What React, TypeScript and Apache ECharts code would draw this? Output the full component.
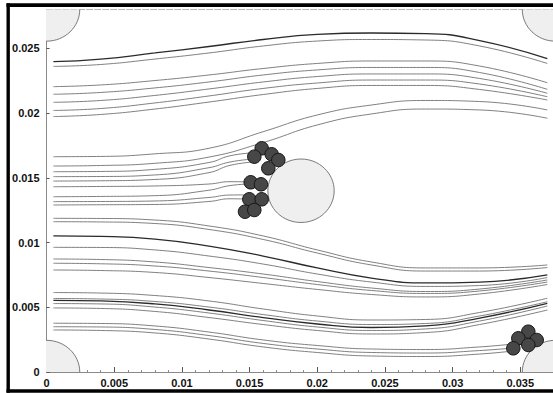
import React, { useEffect, useRef } from "react";
import * as echarts from "echarts";

// ---------- data (axis units: metres) ----------
const X_MAX = 0.0376;
const Y_MAX = 0.028;

// sample abscissae shared by the streamlines that cross the whole cell
const X_FULL = [0.0005, 0.004, 0.008, 0.012, 0.016, 0.02, 0.024, 0.028, 0.032, 0.037];
// abscissae of the lowest streamlines (they end at the bottom-right particle cluster)
const X_BOTTOM = [0.0005, 0.004, 0.008, 0.012, 0.016, 0.02, 0.024, 0.028, 0.032, 0.0345];

// upper streamlines (go over the cylinder)
const A1 = [0.02397, 0.02417, 0.02464, 0.02514, 0.02568, 0.02607, 0.02618, 0.02614, 0.0256, 0.02421];
const A2 = [0.0236, 0.02375, 0.02417, 0.02464, 0.02518, 0.02556, 0.02568, 0.02564, 0.02518, 0.02383];
const A3 = [0.02204, 0.02217, 0.02251, 0.02294, 0.02344, 0.02383, 0.02402, 0.02402, 0.02363, 0.02234];
const A4 = [0.02145, 0.02159, 0.02194, 0.0224, 0.02294, 0.02333, 0.02352, 0.02352, 0.02313, 0.02183];
const A5 = [0.02083, 0.02097, 0.02136, 0.02186, 0.0224, 0.02282, 0.02302, 0.02302, 0.02267, 0.02153];
const A6 = [0.0202, 0.02035, 0.02078, 0.02132, 0.0219, 0.02232, 0.02255, 0.02255, 0.02224, 0.02126];
const A7 = [0.01973, 0.01989, 0.02031, 0.02085, 0.02143, 0.0219, 0.02213, 0.02213, 0.02182, 0.02101];
const B1 = [0.01663, 0.01665, 0.01685, 0.01728, 0.01856, 0.01985, 0.02062, 0.02097, 0.02089, 0.02024];
const B2 = [0.01591, 0.01595, 0.01612, 0.01660, 0.01772, 0.01908, 0.01993, 0.02031, 0.02024, 0.0196];

// lower streamlines (go under the cylinder)
const M1 = [0.01187, 0.01186, 0.01174, 0.01128, 0.01051, 0.00943, 0.0085, 0.00804, 0.00804, 0.00827];
const M2 = [0.01161, 0.01159, 0.01147, 0.01101, 0.01024, 0.00919, 0.00827, 0.0078, 0.0078, 0.00807];
const M3 = [0.01051, 0.01047, 0.01027, 0.00973, 0.00896, 0.00804, 0.00726, 0.00688, 0.00695, 0.0075];
const M4 = [0.00963, 0.00962, 0.00943, 0.00896, 0.00834, 0.00757, 0.00695, 0.00661, 0.00668, 0.0073];
const M5 = [0.00873, 0.00869, 0.0085, 0.00807, 0.00757, 0.00699, 0.00649, 0.00622, 0.00641, 0.00711];
const M6 = [0.0084, 0.00836, 0.00819, 0.0078, 0.0073, 0.00676, 0.0063, 0.00607, 0.00626, 0.00695];
const M7 = [0.00788, 0.00784, 0.00769, 0.0073, 0.00684, 0.00638, 0.00599, 0.0058, 0.00603, 0.00676];
const N1 = [0.00614, 0.0061, 0.00591, 0.00549, 0.00487, 0.00433, 0.00402, 0.00406, 0.0046, 0.0057];
const N2 = [0.00568, 0.00564, 0.00545, 0.00502, 0.00444, 0.00394, 0.00367, 0.00375, 0.00433, 0.00543];
const N3 = [0.00553, 0.00549, 0.00526, 0.00479, 0.00421, 0.00371, 0.00344, 0.00356, 0.00417, 0.00531];
const N4 = [0.00529, 0.00526, 0.00502, 0.00456, 0.00398, 0.00348, 0.00321, 0.00333, 0.00394, 0.0051];
const N5 = [0.00495, 0.00491, 0.00468, 0.00421, 0.00367, 0.00321, 0.00294, 0.00305, 0.00367, 0.00479];

// lowest streamlines (captured by the bottom-right cluster)
const P1 = [0.00377, 0.00375, 0.00356, 0.00309, 0.00248, 0.00205, 0.00178, 0.00174, 0.00194, 0.00217];
const P2 = [0.0035, 0.00348, 0.00329, 0.00282, 0.00221, 0.00178, 0.00151, 0.00147, 0.00166, 0.00186];
const P3 = [0.00325, 0.00321, 0.00302, 0.00255, 0.00194, 0.00151, 0.00124, 0.0012, 0.00139, 0.00163];

// streamlines captured by the particles in front of the cylinder: [x, y]
const C1 = [[0.0005, 0.01547], [0.004, 0.01549], [0.008, 0.01565], [0.012, 0.01618], [0.01355, 0.01670], [0.0152, 0.01692]];
const C2 = [[0.0005, 0.01509], [0.004, 0.0151], [0.008, 0.01522], [0.012, 0.01578], [0.01355, 0.01622], [0.0153, 0.01645]];
const C3 = [[0.0005, 0.01475], [0.004, 0.01477], [0.008, 0.01487], [0.012, 0.01540], [0.01355, 0.01596], [0.0153, 0.01622]];
const C4 = [[0.0005, 0.01431], [0.004, 0.01433], [0.008, 0.01437], [0.012, 0.01452], [0.01355, 0.0147], [0.0151, 0.01468]];
const C5 = [[0.0005, 0.01354], [0.004, 0.01356], [0.008, 0.01362], [0.012, 0.01404], [0.01355, 0.01440], [0.0151, 0.01452]];
const C6 = [[0.0005, 0.01316], [0.004, 0.01317], [0.008, 0.01321], [0.012, 0.01348], [0.01355, 0.01367], [0.015, 0.01368]];
const C7 = [[0.0005, 0.0129], [0.004, 0.01292], [0.008, 0.01294], [0.012, 0.01317], [0.01355, 0.01338], [0.015, 0.01335]];

// cylinders (centres) and radius
const CYLINDERS = [[0, 0], [0, 0.028], [0.0376, 0], [0.0376, 0.028], [0.0188, 0.014]];
const CYL_R = 0.00245;

// deposited particles
const PARTICLES = [
  [0.015895, 0.017278], [0.015348, 0.01663], [0.016634, 0.016815], [0.017121, 0.016375],
  [0.016382, 0.015734], [0.015082, 0.014653], [0.015843, 0.014498], [0.014978, 0.01334],
  [0.015895, 0.01334], [0.014661, 0.012382], [0.015348, 0.012514],
  [0.035595, 0.003116], [0.034856, 0.002606], [0.036216, 0.002475], [0.035595, 0.002089],
  [0.034486, 0.001834],
];

const FULL_LINES = [A1, A2, A3, A4, A5, A6, A7, B1, B2, M1, M2, M3, M4, M5, M6, M7, N1, N2, N3, N4, N5];
const DARK = new Set([A1, M3, N3]);
const BOTTOM_LINES = [P1, P2, P3];
const CAPTURED = [C1, C2, C3, C4, C5, C6, C7];

const fmt = (v: number) => String(+Number(v).toFixed(3));

export default function App() {
  const ref = useRef<HTMLDivElement>(null);
  useEffect(() => {
    if (!ref.current) return;
    const chart = echarts.init(ref.current, undefined, { renderer: "svg" });
    const normal = { color: "#727272", width: 0.9 };
    const dark = { color: "#2a2a2a", width: 1.3 };
    const lineSeries = (data: number[][], style: any) => ({
      type: "line",
      data,
      smooth: 0.5,
      showSymbol: false,
      symbol: "none",
      silent: true,
      lineStyle: style,
      z: 2,
    });
    const series: any[] = [];
    FULL_LINES.forEach((ys) =>
      series.push(lineSeries(X_FULL.map((x, i) => [x, ys[i]]), DARK.has(ys) ? dark : normal))
    );
    BOTTOM_LINES.forEach((ys) => series.push(lineSeries(X_BOTTOM.map((x, i) => [x, ys[i]]), normal)));
    CAPTURED.forEach((pts) => series.push(lineSeries(pts, normal)));
    series.push({
      type: "custom",
      data: CYLINDERS,
      clip: true,
      silent: true,
      z: 5,
      renderItem: (_p: any, api: any) => {
        const c = api.coord([api.value(0), api.value(1)]);
        const s = api.size([CYL_R, CYL_R]);
        return {
          type: "ellipse",
          shape: { cx: c[0], cy: c[1], rx: s[0], ry: s[1] },
          style: { fill: "#efefef", stroke: "#5a5a5a", lineWidth: 0.8 },
        };
      },
    });
    series.push({
      type: "scatter",
      data: PARTICLES,
      symbolSize: 13.5,
      silent: true,
      z: 10,
      itemStyle: { color: "#474747", borderColor: "#161616", borderWidth: 1, opacity: 1 },
    });

    const labelFont = {
      fontFamily: "'Liberation Sans', Arial, sans-serif",
      fontWeight: "bold",
      fontSize: 11,
      color: "#111",
    };

    chart.setOption({
      animation: false,
      backgroundColor: "#ffffff",
      grid: {
        left: 46.6,
        top: 9.45,
        width: X_MAX * 13533,
        height: Y_MAX * 12950,
        containLabel: false,
        outerBoundsMode: "none",
      },
      xAxis: [
        {
          type: "value",
          min: 0,
          max: X_MAX,
          interval: 0.005,
          axisLine: { show: true, onZero: false, lineStyle: { color: "#8a8a8a", width: 1 } },
          axisTick: { show: true, inside: true, length: 5, lineStyle: { color: "#555" } },
          minorTick: { show: true, splitNumber: 5, length: 2, lineStyle: { color: "#888" } },
          splitLine: { show: false },
          axisLabel: { ...labelFont, margin: 5, showMaxLabel: false, formatter: fmt },
        },
        {
          type: "value",
          position: "top",
          min: 0,
          max: X_MAX,
          interval: 0.005,
          axisLine: { show: true, onZero: false, lineStyle: { color: "#b5b5b5", width: 1, type: [6, 2] } },
          axisTick: { show: false },
          axisLabel: { show: false },
          splitLine: { show: false },
        },
      ],
      yAxis: {
        type: "value",
        min: 0,
        max: Y_MAX,
        interval: 0.005,
        axisLine: { show: true, onZero: false, lineStyle: { color: "#8a8a8a", width: 1 } },
        axisTick: { show: true, inside: true, length: 3, lineStyle: { color: "#555" } },
        splitLine: { show: false },
        axisLabel: { ...labelFont, margin: 7, showMaxLabel: false, formatter: fmt },
      },
      graphic: [
        { type: "rect", z: 100, shape: { x: 6.5, y: 3.3, width: 3.4, height: 389.4 }, style: { fill: "#000" } },
        { type: "rect", z: 100, shape: { x: 6.5, y: 3.3, width: 560, height: 3.7 }, style: { fill: "#000" } },
        { type: "rect", z: 100, shape: { x: 6.5, y: 389.3, width: 560, height: 3.4 }, style: { fill: "#000" } },
      ],
      series,
    });
    return () => chart.dispose();
  }, []);

  return (
    <div style={{ position: "fixed", left: 0, top: 0, width: 553, height: 393, overflow: "hidden", background: "#fff" }}>
      <div ref={ref} style={{ width: 560, height: 393 }} />
    </div>
  );
}
